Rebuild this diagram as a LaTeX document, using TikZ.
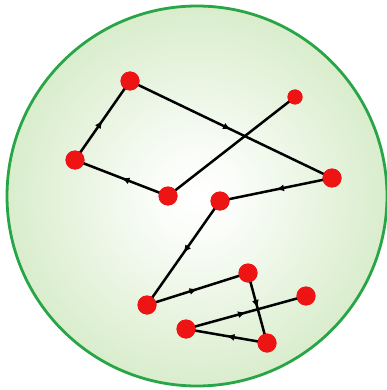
\documentclass[tikz,border=0pt]{standalone}
\usetikzlibrary{decorations.markings,arrows.meta}
\definecolor{rimgreen}{RGB}{40,165,70}
\definecolor{edgegreen}{RGB}{150,206,118}
\definecolor{midgreen}{RGB}{205,231,188}
\definecolor{dotred}{RGB}{238,20,20}
\pgfdeclareradialshading{bowl}{\pgfpoint{0bp}{0bp}}{%
  color(0bp)=(white);
  color(5bp)=(white!92!midgreen);
  color(32bp)=(midgreen);
  color(50bp)=(edgegreen)}
\tikzset{
  dot/.style={circle,fill=dotred,inner sep=0pt,minimum size=19pt},
  smalldot/.style={circle,fill=dotred,inner sep=0pt,minimum size=15pt},
  walk/.style={line width=2.5pt,black,
    postaction={decorate,decoration={markings,
      mark=at position 0.5 with {\arrow{Latex[length=8pt,width=7pt]}}}}},
  plain/.style={line width=2.5pt,black}
}
\begin{document}
\begin{tikzpicture}[x=1pt,y=-1pt]
\useasboundingbox (0,0) rectangle (387,390);
\fill[white] (0,0) rectangle (387,390);
\shade[shading=bowl] (197,196) circle (190);
\draw[rimgreen,line width=2.8pt] (197,196) circle (190);
\node[dot] (a) at (130,81) {};
\node[smalldot] (b) at (295,97) {};
\node[dot] (c) at (75,160) {};
\node[dot] (d) at (168,196) {};
\node[dot] (e) at (332,178) {};
\node[dot] (f) at (220,201) {};
\node[dot] (g) at (147,305) {};
\node[dot] (h) at (248,273) {};
\node[dot] (i) at (306,296) {};
\node[dot] (j) at (186,329) {};
\node[dot] (k) at (267,343) {};
\draw[plain] (b.center) -- (d.center);
\draw[walk] (d.center) -- (c.center);
\draw[walk] (c.center) -- (a.center);
\draw[walk] (a.center) -- (e.center);
\draw[walk] (e.center) -- (f.center);
\draw[walk] (f.center) -- (g.center);
\draw[walk] (g.center) -- (h.center);
\draw[walk] (h.center) -- (k.center);
\draw[walk] (k.center) -- (j.center);
\draw[walk] (j.center) -- (i.center);
\node[dot] at (a) {};
\node[smalldot] at (b) {};
\node[dot] at (c) {};
\node[dot] at (d) {};
\node[dot] at (e) {};
\node[dot] at (f) {};
\node[dot] at (g) {};
\node[dot] at (h) {};
\node[dot] at (i) {};
\node[dot] at (j) {};
\node[dot] at (k) {};
\end{tikzpicture}
\end{document}
